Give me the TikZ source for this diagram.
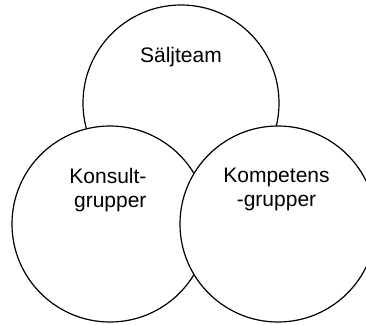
\documentclass[tikz,border=0pt]{standalone}
\usepackage{fontspec}
\setmainfont{Liberation Sans}
\begin{document}
\begin{tikzpicture}[x=1pt,y=-1pt,
  ring/.style={draw=black,fill=white,line width=1.2pt,circle,minimum size=196pt,inner sep=0pt},
  lbl/.style={font=\fontsize{21}{24}\selectfont,inner sep=0pt}]
\useasboundingbox (0,0) rectangle (366,324);
\node[ring] (top) at (181,103) {};
\node[ring] (left) at (110,224) {};
\node[ring] (right) at (278,224) {};
\node[lbl,anchor=base] (tl) at (181,62.7) {Säljteam};
\node[lbl,align=right,anchor=north east] (ll) at (146.7,168.3) {Konsult-\\grupper};
\node[lbl,align=center,anchor=north] (rl) at (276.5,168.3) {Kompetens\\-grupper};
\end{tikzpicture}
\end{document}
